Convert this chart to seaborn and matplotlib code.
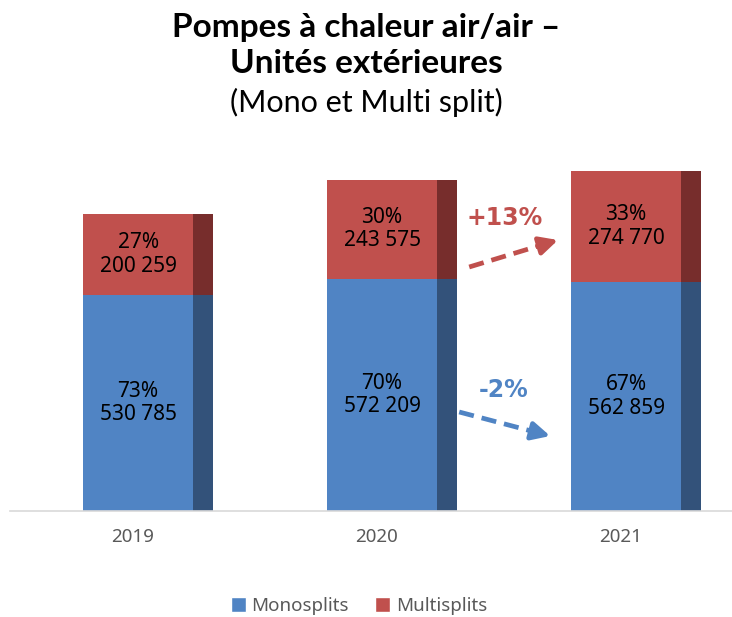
import numpy as np
import pandas as pd
import matplotlib
matplotlib.use("Agg")
import matplotlib.pyplot as plt
import seaborn as sns
from matplotlib.patches import Patch

years = ["2019", "2020", "2021"]
mono = [530785, 572209, 562859]
multi = [200259, 243575, 274770]
mono_pct = [73, 70, 67]
multi_pct = [27, 30, 33]
series_names = ["Monosplits", "Multisplits"]

BLUE = "#5084C4"
RED = "#C0504D"
DBLUE = "#33527A"
DRED = "#772D2C"
GRAY = "#595959"

sns.set_theme(style="white")
plt.rcParams["font.family"] = ["Noto Sans", "DejaVu Sans"]
plt.rcParams["text.color"] = "black"

df = pd.DataFrame({"year": years, "mono": mono, "multi": multi})
df["total"] = df["mono"] + df["multi"]

fig = plt.figure(figsize=(7.32, 6.17), dpi=100)
ax = fig.add_axes([10 / 732, 1 - 511 / 617, 1 - 10 / 732, (511 - 150) / 617])

W = 0.533   # bar width (category units)
SW = 0.082  # dark side strip width

sns.barplot(data=df, x="year", y="total", color=RED, saturation=1, width=W, ax=ax,
            linewidth=0, edgecolor="none")
sns.barplot(data=df, x="year", y="mono", color=BLUE, saturation=1, width=W, ax=ax,
            linewidth=0, edgecolor="none")

pos = np.arange(len(years))
ax.bar(pos + W / 2 - SW, df["total"], width=SW, align="edge", color=DRED, linewidth=0)
ax.bar(pos + W / 2 - SW, df["mono"], width=SW, align="edge", color=DBLUE, linewidth=0)

fmt = lambda v: f"{v:,}".replace(",", " ")
face_c = pos - SW / 2
for i in range(len(years)):
    ax.text(face_c[i], mono[i] / 2, f"{mono_pct[i]}%\n{fmt(mono[i])}",
            ha="center", va="center", fontsize=15, color="black", linespacing=1.15)
    ax.text(face_c[i], mono[i] + multi[i] / 2, f"{multi_pct[i]}%\n{fmt(multi[i])}",
            ha="center", va="center", fontsize=15, color="black", linespacing=1.15)

ax.set_xlim(-0.566, 2.393)
ax.set_ylim(0, 888600)
ax.set_xticks(pos - 0.063)
ax.set_xticklabels(years, color=GRAY, fontsize=13.5)
ax.tick_params(axis="x", length=0, pad=12)
ax.set_yticks([])
ax.set_xlabel("")
ax.set_ylabel("")
for s in ["top", "left", "right"]:
    ax.spines[s].set_visible(False)
ax.spines["bottom"].set_color("#D9D9D9")
ax.spines["bottom"].set_linewidth(1.2)

# change annotations
chg_multi = round((multi[2] / multi[1] - 1) * 100)
chg_mono = round((mono[2] / mono[1] - 1) * 100)

def dashed_arrow(x0, y0, x1, y1, color):
    fx = x0 + (x1 - x0) * 0.82
    fy = y0 + (y1 - y0) * 0.82
    ax.plot([x0, fx], [y0, fy], color=color, lw=3.4, linestyle=(0, (3.2, 1.7)),
            solid_capstyle="butt", dash_capstyle="butt")
    ax.annotate("", xy=(x1, y1), xytext=(fx - (x1 - x0) * 0.05, fy - (y1 - y0) * 0.05),
                arrowprops=dict(arrowstyle="-|>,head_length=0.9,head_width=0.45",
                                color=color, lw=3.4, shrinkA=0, shrinkB=0))

dashed_arrow(1.316, 600600, 1.680, 667000, RED)
dashed_arrow(1.275, 243700, 1.648, 184600, BLUE)
ax.text(1.463, 722000, f"+{chg_multi}%", color=RED, fontsize=17, fontweight="bold",
        ha="center", va="center", family=["DejaVu Sans"])
ax.text(1.459, 297000, f"{chg_mono}%", color=BLUE, fontsize=17, fontweight="bold",
        ha="center", va="center", family=["DejaVu Sans"])

# title
fig.text(0.5, 1 - 36.7 / 617, "Pompes à chaleur air/air –", ha="center", va="baseline",
         fontsize=24, fontweight="bold", color="black", family=["Lato", "DejaVu Sans"])
fig.text(0.5, 1 - 73.3 / 617, "Unités extérieures", ha="center", va="baseline",
         fontsize=24, fontweight="bold", color="black", family=["Lato", "DejaVu Sans"])
fig.text(0.5, 1 - 111.7 / 617, "(Mono et Multi split)", ha="center", va="baseline",
         fontsize=22, color="black", family=["Lato", "DejaVu Sans"])

# legend
handles = [Patch(facecolor=BLUE), Patch(facecolor=RED)]
fig.legend(handles, series_names, loc="center", bbox_to_anchor=(359 / 732, 1 - 606 / 617),
           ncol=2, frameon=False, fontsize=13.5, labelcolor=GRAY,
           handlelength=0.8, handleheight=0.8, handletextpad=0.3, columnspacing=1.4)

fig.savefig("out.png", dpi=100)
